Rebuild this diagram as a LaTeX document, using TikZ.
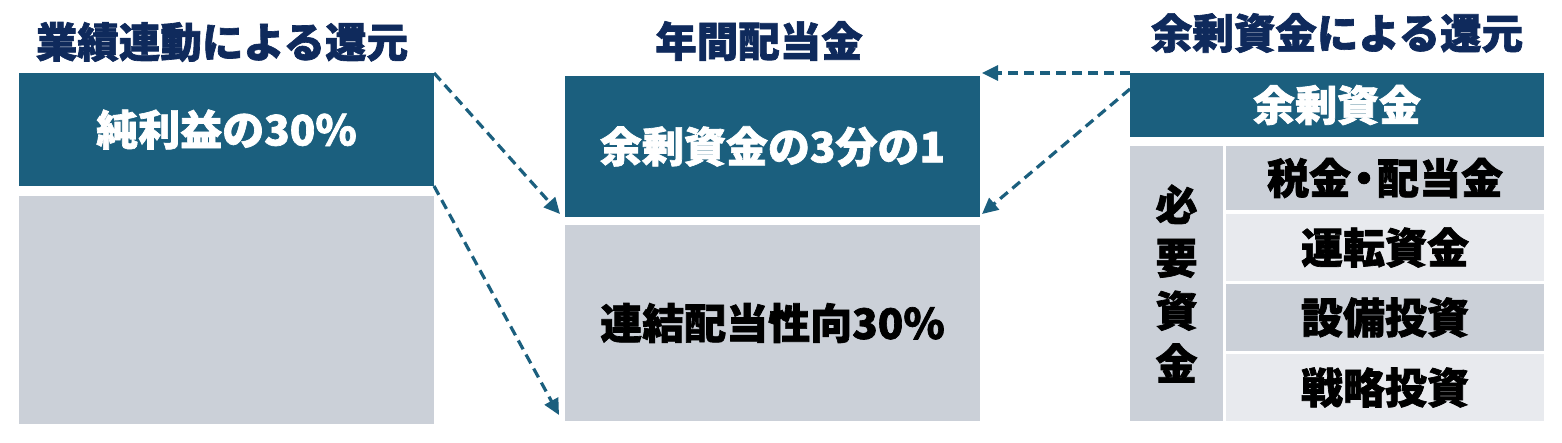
\documentclass[tikz,border=0pt]{standalone}
\usepackage{fontspec}
\setmainfont{Noto Sans CJK JP}[BoldFeatures={FakeBold=1.6}]
\usetikzlibrary{arrows.meta,calc}
\definecolor{dkblue}{HTML}{1B5F7E}
\definecolor{grayone}{HTML}{CBD0D8}
\definecolor{graytwo}{HTML}{E8EAEE}
\definecolor{navy}{HTML}{0F2A5C}
\begin{document}
\begin{tikzpicture}[x=1pt,y=-1pt,
  cell/.style={draw=none, inner sep=0pt, outer sep=0pt, anchor=north west, font=\bfseries\fontsize{42}{48}\selectfont},
  dark/.style={cell, fill=dkblue, text=white},
  grayb/.style={cell, fill=grayone, text=black},
  lite/.style={cell, fill=graytwo, text=black},
  ttl/.style={text=navy, inner sep=0pt, font=\bfseries\fontsize{41.5}{48}\selectfont},
  conn/.style={draw=dkblue, line width=3.2pt, dash pattern=on 10pt off 6pt, -{Triangle[length=16pt,width=15pt]}}
]
\useasboundingbox (0,0) rectangle (1562,442);
% titles
\node[ttl] (t1) at (222,42) {業績連動による還元};
\node[ttl] (t2) at (759,41) {年間配当金};
\node[ttl] (t3) at (1337,33) {余剰資金による還元};
% left column
\node[dark, minimum width=415pt, minimum height=113pt] (lt) at (19,73) {純利益の30\%};
\node[grayb, minimum width=415pt, minimum height=228pt] (lg) at (19,196) {};
% middle column
\node[dark, minimum width=415pt, minimum height=141pt] (mt) at (565,76) {余剰資金の3分の1};
\node[grayb, minimum width=415pt, minimum height=196pt] (mg) at (565,225) {連結配当性向30\%};
% right column
\node[dark, minimum width=414pt, minimum height=64pt] (rh) at (1130,73) {余剰資金};
\node[grayb, minimum width=93pt, minimum height=275pt, align=center, font=\bfseries\fontsize{42}{53}\selectfont] (rl) at (1130,146) {必\\要\\資\\金};
\node[grayb, minimum width=318pt, minimum height=64pt] (r1) at (1226,146) {税金\kern-8pt・\kern-8pt配当金};
\node[lite, minimum width=318pt, minimum height=67pt] (r2) at (1226,214) {運転資金};
\node[grayb, minimum width=318pt, minimum height=67pt] (r3) at (1226,284) {設備投資};
\node[lite, minimum width=318pt, minimum height=67pt] (r4) at (1226,354) {戦略投資};
% connectors
\draw[conn] (lt.north east) -- ($(mt.south west)+(-5,-3)$);
\draw[conn] (lt.south east) -- ($(mg.south west)+(-6,-6)$);
\draw[conn] (rh.north west) -- ($(mt.north east)+(2,-3)$);
\draw[conn] ($(rh.north west)+(0,16)$) -- ($(mt.south east)+(2,-3)$);
\end{tikzpicture}
\end{document}
